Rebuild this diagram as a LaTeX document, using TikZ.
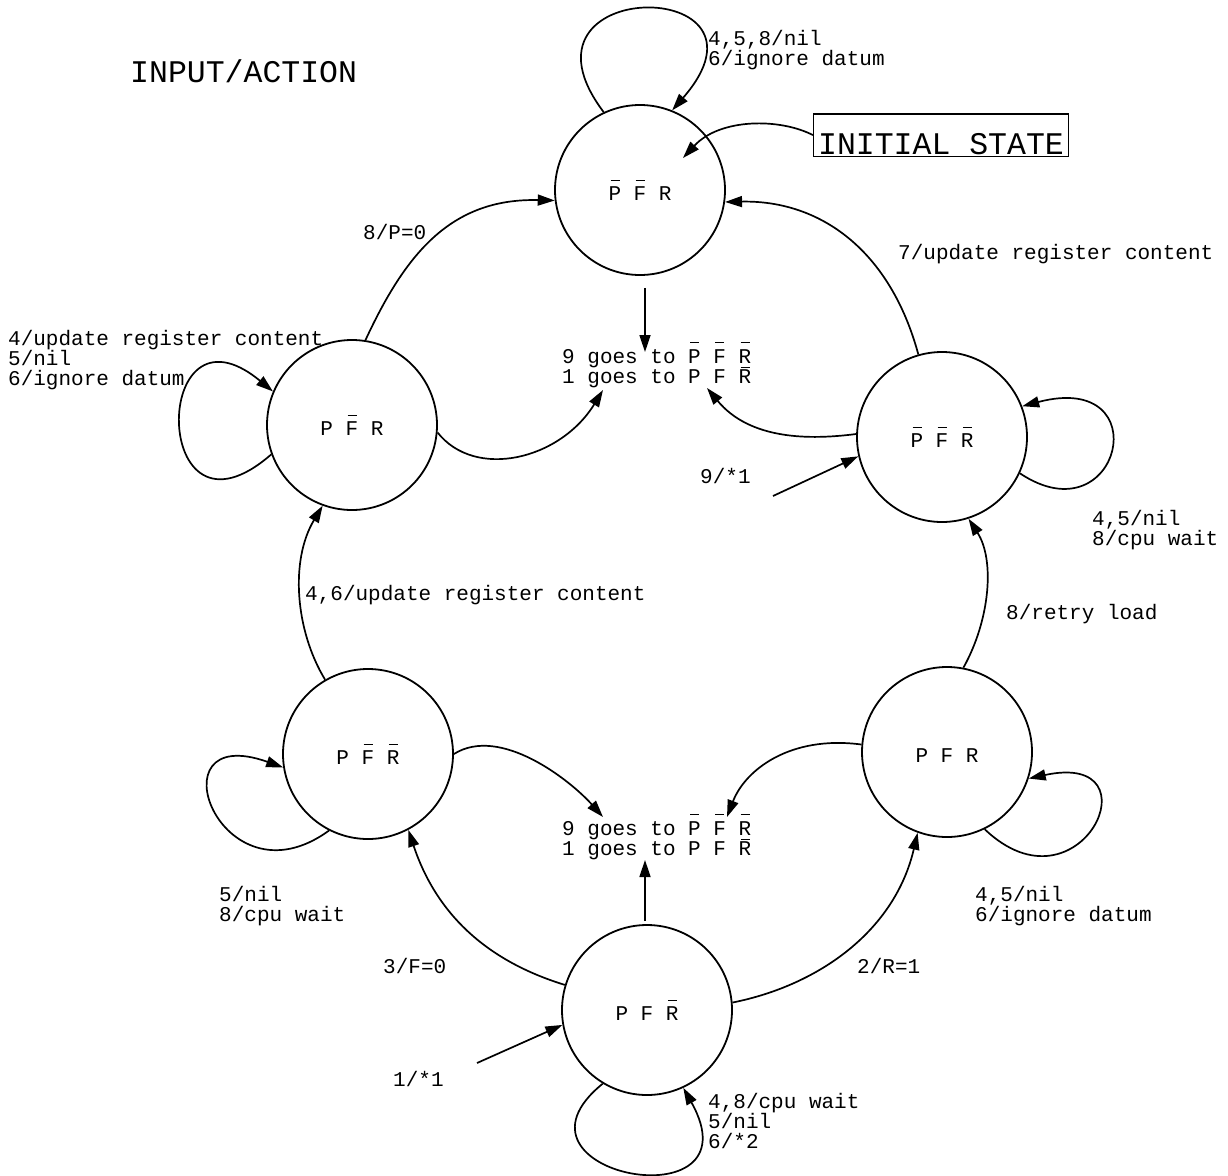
\documentclass[tikz,border=0pt]{standalone}
\usepackage{fontspec}
\setmainfont{Liberation Mono}
\setmonofont{Liberation Mono}
\usetikzlibrary{arrows.meta}
\newcommand\ovl[1]{\makebox[0pt][l]{\hspace{2pt}\raisebox{20pt}{\rule{9pt}{1pt}}}#1}
\newcommand\unl[1]{\makebox[0pt][l]{\hspace{2pt}\raisebox{-5pt}{\rule{9pt}{1pt}}}#1}
\begin{document}
\begin{tikzpicture}[x=1pt,y=-1pt,
  st/.style={circle, draw, line width=1.8pt, minimum size=170pt, inner sep=0pt, text height=21pt, text depth=0pt, font=\fontsize{21}{20}\selectfont},
  lbl/.style={inner sep=0pt, anchor=base west, align=left, font=\fontsize{21}{20}\selectfont},
  big/.style={inner sep=0pt, anchor=base west, font=\fontsize{31.5}{32}\selectfont},
  conn/.style={line width=1.7pt, -{Triangle[length=17pt,width=11pt]}}]
\useasboundingbox (0,0) rectangle (1228,1175);
% states
\node[st] (s0) at (640,190) {\ovl{P} \ovl{F} R};
\node[st] (s1) at (352,425) {P \ovl{F} R};
\node[st] (s2) at (942,437) {\ovl{P} \ovl{F} \ovl{R}};
\node[st] (s3) at (368,754) {P \ovl{F} \ovl{R}};
\node[st] (s4) at (947,752) {P F R};
\node[st] (s5) at (647,1010) {P F \ovl{R}};
% texts (multi-line nodes: base = last line)
\node[big] (title) at (130,82) {INPUT/ACTION};
\node[draw, line width=1.2pt, inner xsep=4.5pt, inner ysep=1.5pt, text height=39.5pt, text depth=0pt, anchor=south west, font=\fontsize{31.5}{32}\selectfont] (init) at (813,157) {INITIAL STATE};
\node[lbl] (l0) at (708,65) {4,5,8/nil\\6/ignore datum};
\node[lbl] (l1) at (363,239) {8/P=0};
\node[lbl] (l2) at (898,259) {7/update register content};
\node[lbl] (l3) at (8,385) {4/update register content\\5/nil\\6/ignore datum};
\node[lbl] (t1) at (562,383) {9 goes to \ovl{P} \ovl{F} \ovl{\unl{R}}\\1 goes to P F R};
\node[lbl] (l4) at (700,483) {9/*1};
\node[lbl] (l5) at (1092,545) {4,5/nil\\8/cpu wait};
\node[lbl] (l6) at (305,600) {4,6/update register content};
\node[lbl] (l7) at (1006,619) {8/retry load};
\node[lbl] (t2) at (562,855) {9 goes to \ovl{P} \ovl{F} \ovl{\unl{R}}\\1 goes to P F R};
\node[lbl] (l8) at (219,921) {5/nil\\8/cpu wait};
\node[lbl] (l9) at (975,921) {4,5/nil\\6/ignore datum};
\node[lbl] (l10) at (383,973) {3/F=0};
\node[lbl] (l11) at (857,973) {2/R=1};
\node[lbl] (l12) at (393,1086) {1/*1};
\node[lbl] (l13) at (708,1148) {4,8/cpu wait\\5/nil\\6/*2};
% free ends
\coordinate (initend) at (683,158);
\coordinate (in9) at (773,496);
\coordinate (in1) at (477,1063);
% connectors
\draw[conn] (s0.115) .. controls (500,-25) and (790,-25) .. (s0.68);
\draw[conn] (init.west) .. controls (780,118) and (720,118) .. (initend);
\draw[conn] (s1.81) .. controls (405,255) and (450,198) .. (s0.187);
\draw[conn] (s2.106) .. controls (890,250) and (820,200) .. (s0.-8);
\draw[conn] ([xshift=5pt,yshift=-12pt]s0.south) -- ([xshift=83pt,yshift=31pt]t1.base west);
\draw[conn] (s1.-5) .. controls (475,480) and (560,460) .. ([xshift=41pt,yshift=-7pt]t1.base west);
\draw[conn] (s2.178) .. controls (810,440) and (750,440) .. ([xshift=145pt,yshift=-5pt]t1.base west);
\draw[conn] (in9) -- (s2.193);
\draw[conn] (s1.200) .. controls (150,560) and (150,290) .. (s1.157);
\draw[conn] (s2.-25) .. controls (1120,540) and (1160,370) .. (s2.21);
\draw[conn] (s3.120) .. controls (295,630) and (290,560) .. (s1.250);
\draw[conn] (s4.79) .. controls (990,620) and (995,560) .. (s2.288);
\draw[conn] (s3.0) .. controls (500,725) and (570,780) .. ([xshift=41pt,yshift=38pt]t2.base west);
\draw[conn] (s4.175) .. controls (790,735) and (745,770) .. ([xshift=165pt,yshift=38pt]t2.base west);
\draw[conn] ([xshift=-2pt,yshift=3pt]s5.north) -- ([xshift=83pt,yshift=-5pt]t2.base west);
\draw[conn] (s3.243) .. controls (220,910) and (150,720) .. (s3.189);
\draw[conn] (s4.-64) .. controls (1080,920) and (1160,750) .. (s4.-18);
\draw[conn] (s5.163) .. controls (500,965) and (440,925) .. (s3.-62);
\draw[conn] (s5.5) .. controls (820,985) and (895,930) .. (s4.250);
\draw[conn] (in1) -- (s5.190);
\draw[conn] (s5.239) .. controls (490,1175) and (760,1225) .. (s5.-65);
\end{tikzpicture}
\end{document}
